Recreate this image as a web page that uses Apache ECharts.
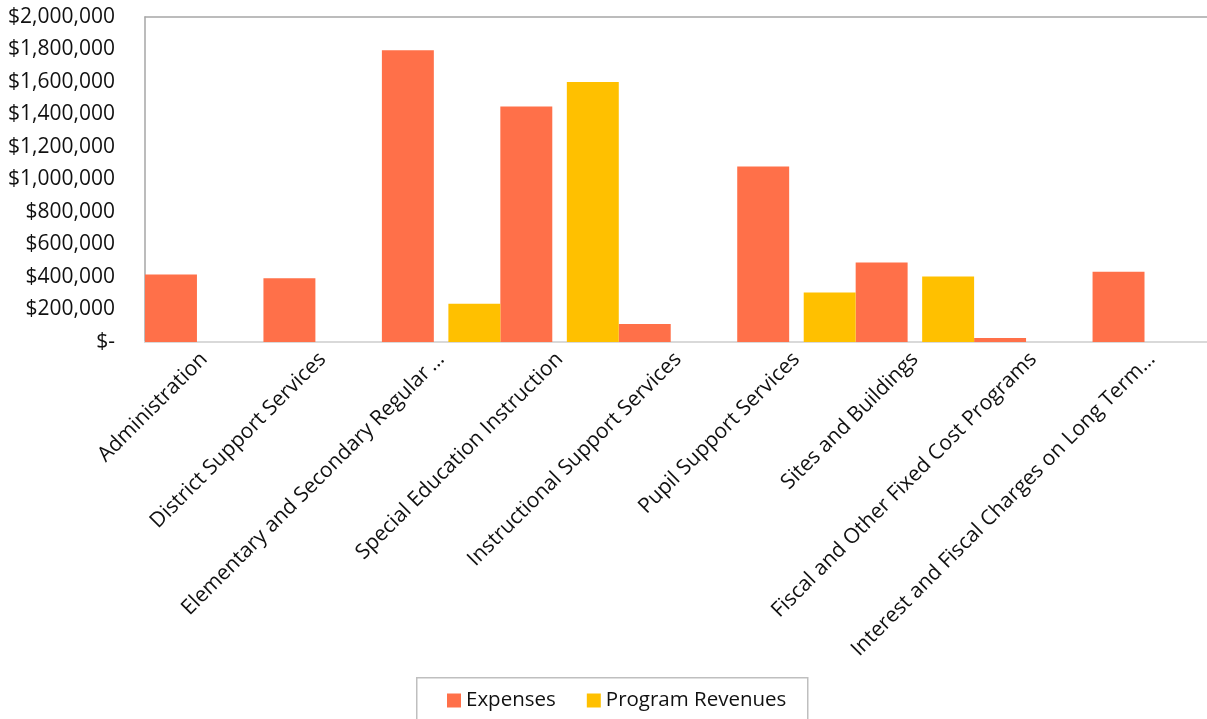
<!DOCTYPE html>
<html>
<head>
<meta charset="utf-8">
<script src="https://cdn.jsdelivr.net/npm/echarts@6/dist/echarts.min.js"></script>
<style>
  html, body { margin: 0; padding: 0; background: #fff; overflow: hidden; }
  #chart { width: 1207px; height: 719px; }
</style>
</head>
<body>
<div id="chart"></div>
<script>
const categories = [
  'Administration',
  'District Support Services',
  'Elementary and Secondary Regular\u2009…',
  'Special Education Instruction',
  'Instructional Support Services',
  'Pupil Support Services',
  'Sites and Buildings',
  'Fiscal and Other Fixed Cost Programs',
  'Interest and Fiscal Charges on Long Term…'
];
const expenses = [415000, 392000, 1795000, 1450000, 111000, 1080000, 490000, 24000, 432000];
const programRevenues = [0, 0, 235000, 1600000, 0, 304000, 403000, 0, 0];
const yTicks = { min: 0, max: 2000000, interval: 200000 };

const FONT = 'Open Sans';
const chart = echarts.init(document.getElementById('chart'), null, { renderer: 'canvas' });
chart.setOption({
  animation: false,
  backgroundColor: '#ffffff',
  textStyle: { fontFamily: FONT },
  grid: {
    left: 145, width: 1066, top: 17, bottom: 377,
    outerBoundsMode: 'none', containLabel: false, show: false
  },
  legend: {
    data: ['Expenses', 'Program Revenues'],
    left: 447, top: 690, padding: 0,
    itemWidth: 14, itemHeight: 14, itemGap: 31,
    icon: 'rect',
    textStyle: { fontFamily: FONT, fontSize: 20.5, color: '#111' }
  },
  graphic: [{
    type: 'rect', left: 416, top: 677, z: -1,
    shape: { width: 391, height: 60 },
    style: { fill: '#fff', stroke: '#bfbfbf', lineWidth: 1.5 }
  }],
  xAxis: [
    {
      type: 'category',
      data: categories,
      axisTick: { show: false },
      axisLine: { lineStyle: { color: '#d9d9d9', width: 2 } },
      axisLabel: {
        rotate: 45, margin: 14, interval: 0,
        fontFamily: FONT, fontSize: 21, color: '#111'
      },
      splitLine: { show: false }
    },
    {
      type: 'category',
      data: categories,
      position: 'top',
      axisTick: { show: false },
      axisLabel: { show: false },
      axisLine: { show: true, lineStyle: { color: '#a6a6a6', width: 1.5 } },
      splitLine: { show: false }
    }
  ],
  yAxis: {
    type: 'value',
    min: yTicks.min, max: yTicks.max, interval: yTicks.interval,
    axisLine: { show: true, lineStyle: { color: '#a6a6a6', width: 1.5 } },
    axisTick: { show: false },
    splitLine: { show: false },
    axisLabel: {
      margin: 30, fontFamily: FONT, fontSize: 21, color: '#111',
      formatter: v => v === 0 ? '$-' : '$' + v.toLocaleString('en-US')
    }
  },
  series: [
    {
      name: 'Expenses', type: 'bar', data: expenses,
      barCategoryGap: '0%', barGap: '28%',
      itemStyle: { color: '#FF7049' }
    },
    {
      name: 'Program Revenues', type: 'bar', data: programRevenues,
      itemStyle: { color: '#FFC000' }
    }
  ]
});
</script>
</body>
</html>
